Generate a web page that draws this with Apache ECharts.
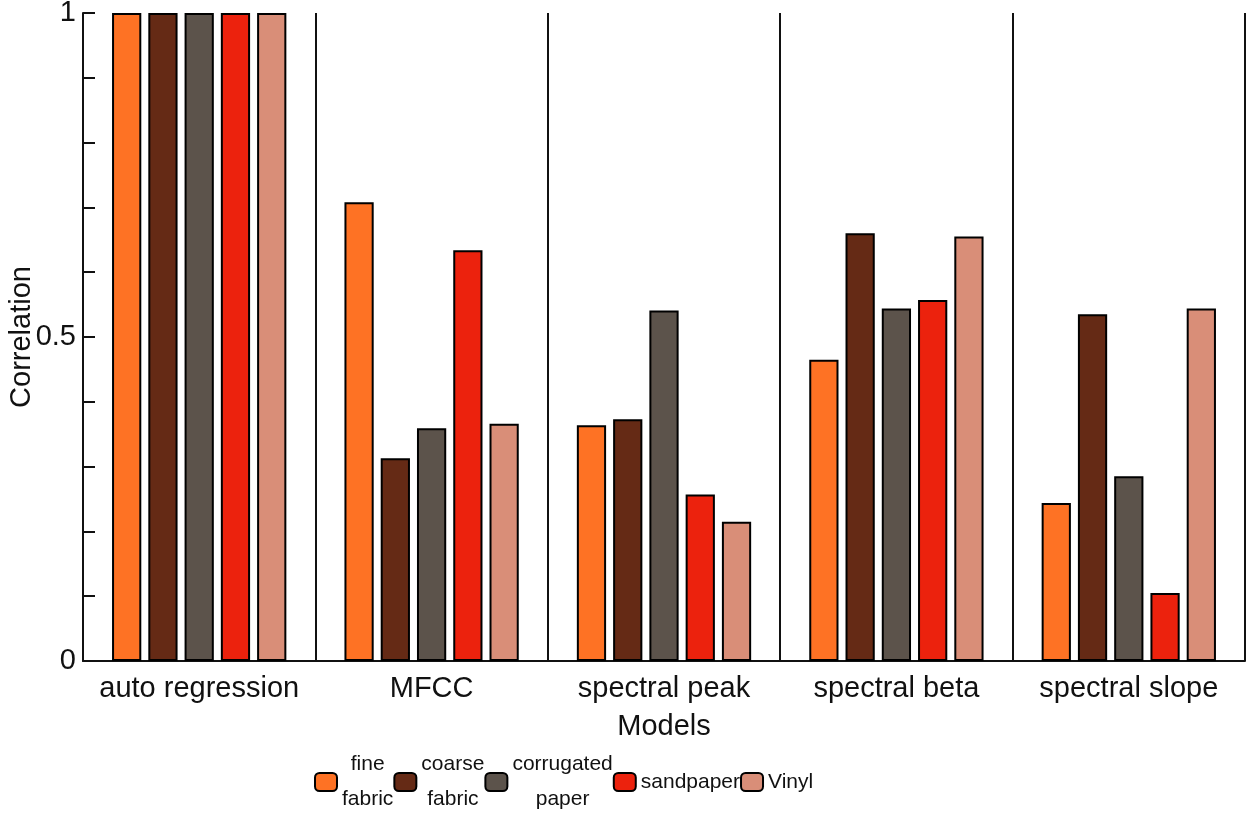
<!DOCTYPE html>
<html>
<head>
<meta charset="utf-8">
<script src="https://cdn.jsdelivr.net/npm/echarts@6/dist/echarts.min.js"></script>
<style>
html,body{margin:0;padding:0;background:#fff;}
#chart{width:1253px;height:818px;}
</style>
</head>
<body>
<div id="chart"></div>
<script>
const categories = ['auto regression', 'MFCC', 'spectral peak', 'spectral beta', 'spectral slope'];
const seriesNames = ['fine fabric', 'coarse fabric', 'corrugated paper', 'sandpaper', 'Vinyl'];
const fineFabric = [1, 0.708, 0.364, 0.465, 0.244];
const coarseFabric = [1, 0.313, 0.373, 0.660, 0.535];
const corrugatedPaper = [1, 0.359, 0.541, 0.544, 0.285];
const sandpaper = [1, 0.634, 0.257, 0.557, 0.105];
const vinyl = [1, 0.366, 0.215, 0.655, 0.544];
const yTickLabels = {0: '0', 0.5: '0.5', 1: '1'};

const seriesValues = [fineFabric, coarseFabric, corrugatedPaper, sandpaper, vinyl];
const colors = ['#FE7224', '#652A15', '#5C534B', '#EC220D', '#D98E78'];
const FONT = '"Liberation Sans", Arial, sans-serif';

const chart = echarts.init(document.getElementById('chart'), null, {renderer: 'canvas'});
chart.setOption({
  animation: false,
  backgroundColor: '#fff',
  grid: {left: 83, right: 8, top: 13, bottom: 157, containLabel: false, outerBoundsMode: 'none'},
  legend: {
    left: 309, top: 749,
    itemWidth: 22, itemHeight: 18, itemGap: 0,
    icon: 'roundRect',
    itemStyle: {borderColor: '#000', borderWidth: 2},
    formatter: name => name.split(' ').map(s => '{c|' + s + '}').join('\n'),
    textStyle: {
      fontFamily: FONT,
      fontSize: 21, color: '#111',
      rich: {c: {align: 'center', fontSize: 21, lineHeight: 35, color: '#111', fontFamily: FONT}}
    },
    data: seriesNames
  },
  xAxis: {
    type: 'category',
    data: categories,
    name: 'Models',
    nameLocation: 'middle',
    nameGap: 51,
    nameMoveOverlap: false,
    nameTextStyle: {fontFamily: FONT, fontSize: 29, color: '#111'},
    axisLine: {lineStyle: {color: '#111', width: 2}},
    axisTick: {show: false},
    axisLabel: {fontFamily: FONT, fontSize: 29, color: '#111', margin: 13, interval: 0},
    splitLine: {show: true, lineStyle: {color: '#111', width: 2}}
  },
  yAxis: {
    type: 'value',
    min: 0, max: 1, interval: 0.1,
    name: 'Correlation',
    nameLocation: 'middle',
    nameGap: 47,
    nameMoveOverlap: false,
    nameTextStyle: {fontFamily: FONT, fontSize: 29, color: '#111'},
    axisLine: {show: true, lineStyle: {color: '#111', width: 2}},
    axisTick: {show: true, inside: true, length: 12, lineStyle: {color: '#111', width: 2}},
    axisLabel: {
      fontFamily: FONT, fontSize: 29, color: '#111', margin: 7,
      formatter: v => {
        const k = Math.round(v * 10) / 10;
        return yTickLabels[k] !== undefined ? yTickLabels[k] : '';
      }
    },
    splitLine: {show: false}
  },
  series: seriesNames.map((n, i) => ({
    name: n,
    type: 'bar',
    data: seriesValues[i],
    barGap: '24%',
    barCategoryGap: '25%',
    itemStyle: {color: colors[i], borderColor: '#000', borderWidth: 2}
  }))
});
</script>
</body>
</html>
